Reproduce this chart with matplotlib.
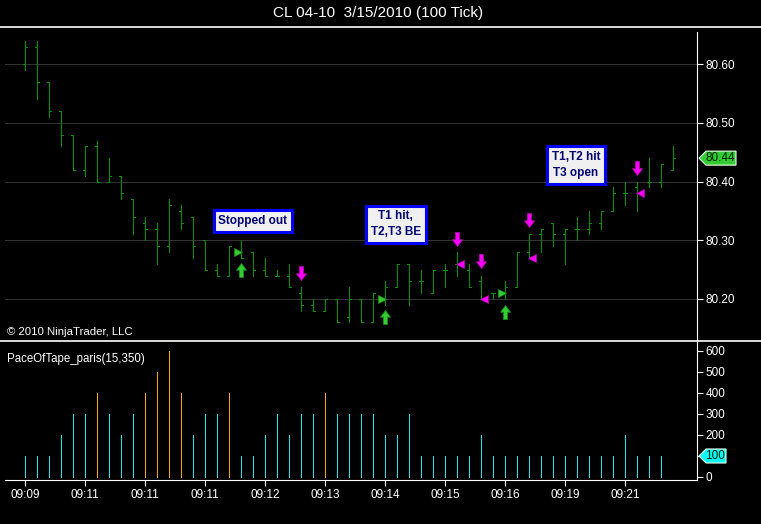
import numpy as np
import matplotlib
matplotlib.use("Agg")
import matplotlib.pyplot as plt
from matplotlib.path import Path
from matplotlib.patches import Polygon
from matplotlib.lines import Line2D
from matplotlib.transforms import IdentityTransform

plt.rcParams['font.family'] = ['Liberation Sans', 'DejaVu Sans']

title = "CL 04-10  3/15/2010 (100 Tick)"

# 100-tick OHLC bars
opens = [80.60, 80.63, 80.57, 80.52, 80.48, 80.42, 80.46, 80.40, 80.41, 80.37,
         80.33, 80.32, 80.29, 80.35, 80.34, 80.30, 80.25, 80.24, 80.28, 80.28,
         80.25, 80.24, 80.24, 80.21, 80.19, 80.18, 80.20, 80.17, 80.20, 80.16,
         80.20, 80.22, 80.26, 80.23, 80.21, 80.25, 80.26, 80.25, 80.23, 80.21,
         80.21, 80.22, 80.28, 80.31, 80.33, 80.31, 80.32, 80.32, 80.33, 80.35,
         80.38, 80.39, 80.40, 80.40, 80.42]
highs = [80.64, 80.64, 80.57, 80.52, 80.48, 80.46, 80.47, 80.44, 80.41, 80.37,
         80.34, 80.33, 80.37, 80.36, 80.34, 80.30, 80.26, 80.29, 80.30, 80.28,
         80.27, 80.25, 80.26, 80.22, 80.20, 80.20, 80.20, 80.22, 80.20, 80.21,
         80.23, 80.26, 80.26, 80.25, 80.25, 80.26, 80.28, 80.26, 80.24, 80.21,
         80.23, 80.28, 80.31, 80.32, 80.33, 80.32, 80.34, 80.35, 80.35, 80.39,
         80.40, 80.40, 80.44, 80.43, 80.46]
lows = [80.59, 80.54, 80.51, 80.46, 80.42, 80.41, 80.40, 80.40, 80.37, 80.31,
        80.30, 80.26, 80.28, 80.32, 80.27, 80.25, 80.24, 80.24, 80.27, 80.24,
        80.24, 80.24, 80.22, 80.18, 80.18, 80.18, 80.16, 80.16, 80.16, 80.16,
        80.19, 80.22, 80.19, 80.21, 80.21, 80.22, 80.24, 80.22, 80.20, 80.20,
        80.20, 80.22, 80.27, 80.28, 80.29, 80.26, 80.30, 80.31, 80.32, 80.35,
        80.36, 80.35, 80.39, 80.39, 80.42]
closes = [80.63, 80.57, 80.52, 80.48, 80.42, 80.46, 80.40, 80.41, 80.38, 80.34,
          80.32, 80.29, 80.36, 80.33, 80.29, 80.25, 80.24, 80.29, 80.27, 80.25,
          80.24, 80.24, 80.22, 80.19, 80.18, 80.20, 80.16, 80.20, 80.16, 80.21,
          80.22, 80.26, 80.23, 80.23, 80.25, 80.25, 80.26, 80.22, 80.20, 80.21,
          80.22, 80.28, 80.31, 80.32, 80.31, 80.32, 80.32, 80.33, 80.35, 80.38,
          80.38, 80.38, 80.40, 80.43, 80.44]

# PaceOfTape indicator (one value per finished bar)
pace = [100, 100, 100, 200, 300, 300, 400, 300, 200, 300, 400, 500, 600, 400,
        200, 300, 300, 400, 100, 100, 200, 300, 200, 300, 300, 400, 300, 300,
        300, 300, 200, 200, 300, 100, 100, 100, 100, 100, 200, 100, 100, 100,
        100, 100, 100, 100, 100, 100, 100, 100, 200, 100, 100, 100]
pace_threshold = 350

tick_idx = [0, 5, 10, 15, 20, 25, 30, 35, 40, 45, 50]
tick_labels = ["09:09", "09:11", "09:11", "09:11", "09:12", "09:13",
               "09:14", "09:15", "09:16", "09:19", "09:21"]
price_ticks = [80.20, 80.30, 80.40, 80.50, 80.60]
pace_ticks = [0, 100, 200, 300, 400, 500, 600]

# trade markers
long_bars = [18, 30, 40]
long_fill = [80.28, 80.20, 80.21]
long_arrow = [80.249, 80.170, 80.178]
exit_bars = [36, 38, 42, 51]
exit_fill = [80.26, 80.20, 80.27, 80.38]
exit_arrow = [80.302, 80.264, 80.334, 80.424]
stop_bars = [23]
stop_arrow = [80.244]

notes = ["Stopped out", "T1 hit,\nT2,T3 BE", "T1,T2 hit\nT3 open"]
note_x = [19.0, 30.9, 45.9]
note_y = [80.333, 80.327, 80.428]

W, H = 761, 524
fig = plt.figure(figsize=(W / 100, H / 100), dpi=100, facecolor='black')

x0, x1 = -25 / 12, (697 - 25) / 12
ax = fig.add_axes([0, (H - 341) / H, 697 / W, (341 - 27) / H], facecolor='black')
axv = fig.add_axes([0, (H - 480) / H, 697 / W, (480 - 341) / H], facecolor='black')

bar_green = '#009000'
x = np.arange(len(opens))
ax.vlines(x, lows, highs, color=bar_green, lw=0.55, antialiased=False)
ax.hlines(opens, x - 0.18, x, color=bar_green, lw=0.55, antialiased=False)
ax.hlines(closes, x, x + 0.18, color=bar_green, lw=0.55, antialiased=False)
ax.hlines(price_ticks, x0 + 5 / 12, x1, color='#333333', lw=0.55, zorder=0,
          antialiased=False)

up = Path([(-0.14, -0.5), (0.14, -0.5), (0.14, 0.02), (0.36, 0.02), (0, 0.5),
           (-0.36, 0.02), (-0.14, 0.02), (-0.14, -0.5)])
down = Path([(px, -py) for px, py in up.vertices])

lb = np.array(long_bars)
ax.plot(lb, long_arrow, ls='none', marker=up, ms=10, mfc='#33cc33', mec='#1a8f1a', mew=0.6)
ax.plot(lb - 0.25, long_fill, ls='none', marker='>', ms=6, mfc='#33cc33', mec='#1a8f1a', mew=0.5)
eb = np.array(exit_bars)
ax.plot(eb, exit_arrow, ls='none', marker=down, ms=10, mfc='#ff00ff', mec='#b000b0', mew=0.6)
ax.plot(stop_bars, stop_arrow, ls='none', marker=down, ms=10, mfc='#ff00ff', mec='#b000b0', mew=0.6)
ax.plot(eb + 0.25, exit_fill, ls='none', marker='<', ms=6, mfc='#ff00ff', mec='#b000b0', mew=0.5)

for s, nx, ny in zip(notes, note_x, note_y):
    ax.text(nx, ny, s, ha='center', va='center', fontsize=8.5, fontweight='bold',
            color='#000070', linespacing=1.45,
            bbox=dict(boxstyle='square,pad=0.4', fc='#f0f0f0', ec='#0000ff', lw=2.2))

ax.set_xlim(x0, x1)
ax.set_ylim(80.1284, 80.6635)
ax.set_xticks([])
ax.yaxis.tick_right()
ax.set_yticks(price_ticks)
ax.set_yticklabels([f"{p:.2f}" for p in price_ticks])
ax.tick_params(axis='y', colors='white', length=4.3, width=0.8, pad=2, labelsize=8.5)
for sp in ['left', 'top', 'bottom']:
    ax.spines[sp].set_visible(False)
ax.spines['right'].set_color('white')
ax.spines['right'].set_bounds(80.1284, 80.6635 - 5 / 5.87 * 0.01)
ax.text(7 / 697, 9 / 314, "\u00a9 2010 NinjaTrader, LLC", transform=ax.transAxes,
        color='white', fontsize=8.2, va='center', ha='left')

# indicator panel
xv = np.arange(len(pace))
cols = ['#ffa500' if v > pace_threshold else '#1fe3ee' for v in pace]
axv.vlines(xv, 0, pace, colors=cols, lw=0.55, antialiased=False)
axv.set_xlim(x0, x1)
axv.set_ylim(-14.3, 647.6)
axv.yaxis.tick_right()
axv.set_yticks(pace_ticks)
axv.set_xticks(tick_idx)
axv.set_xticklabels(tick_labels)
axv.tick_params(colors='white', length=4.3, width=0.8, pad=2, labelsize=8.5)
for sp in ['left', 'top']:
    axv.spines[sp].set_visible(False)
for sp in ['right', 'bottom']:
    axv.spines[sp].set_color('white')
axv.spines['bottom'].set_bounds(x0 + 5 / 12, x1)
axv.text(7 / 697, 1 - 18 / 139, "PaceOfTape_paris(15,350)", transform=axv.transAxes,
         color='white', fontsize=8.3, va='center', ha='left')

# full-width separators
for yy in [27, 341]:
    fig.add_artist(Line2D([0, 1], [1 - yy / H, 1 - yy / H], color='white', lw=1.2,
                          transform=fig.transFigure))

fig.text(0.497, 1 - 13 / H, title, color='white', fontsize=11, ha='center', va='center')


def tag(a, value, txt, fc, right):
    yd = a.transData.transform((0, value))[1]
    pts = [(699, yd), (706, yd + 7), (right, yd + 7), (right, yd - 7), (706, yd - 7)]
    fig.add_artist(Polygon(pts, closed=True, fc=fc, ec='#e8ffe8', lw=0.8,
                           transform=IdentityTransform()))
    fig.text((704 + right) / 2, yd, txt, transform=IdentityTransform(),
             ha='center', va='center', fontsize=8.5, color='#002200')


tag(ax, closes[-1], f"{closes[-1]:.2f}", '#33cc33', 736)
tag(axv, pace[-1], str(pace[-1]), '#00ffff', 726)

fig.savefig("out.png", dpi=100, facecolor='black')
